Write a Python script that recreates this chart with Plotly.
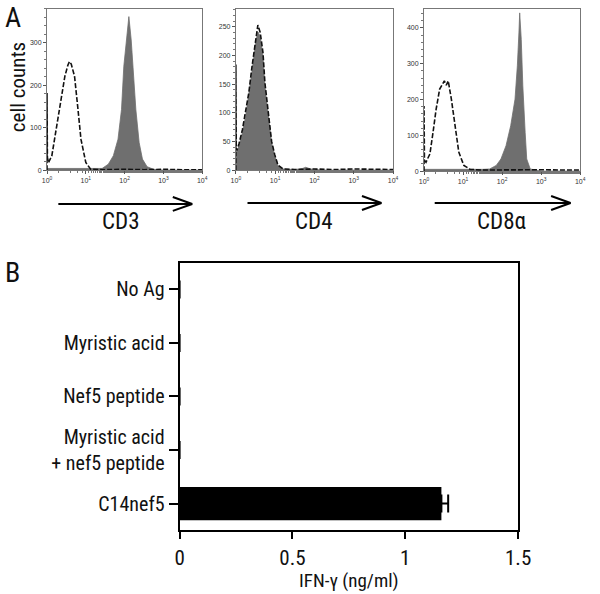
import plotly.graph_objects as go

# ---------------- Panel A data (log10 fluorescence, cell counts) ----------------
cd3_lx = [0, 0.5, 1.0, 1.42, 1.58, 1.71, 1.83, 1.92, 1.98, 2.04, 2.11, 2.17, 2.22, 2.29, 2.375, 2.46, 2.58, 2.75, 3.0, 4.0]
cd3_ct = [4, 4, 4, 4, 14, 34, 73, 143, 245, 307, 362, 307, 237, 143, 65, 26, 8, 2, 0, 0]
iso_cd3_lx = [0, 0, 0.01, 0.04, 0.125, 0.25, 0.375, 0.46, 0.54, 0.58, 0.625, 0.71, 0.79, 0.875, 1.0, 1.125, 1.5, 2.0, 2.5, 3.0, 3.5, 4.0]
iso_cd3_ct = [0, 182, 30, 18, 34, 104, 174, 221, 248, 256, 250, 221, 151, 73, 18, 2, 1, 2, 1, 2, 1, 1]

cd4_lx = [0, 0.025, 0.08, 0.165, 0.25, 0.33, 0.41, 0.5, 0.56, 0.62, 0.69, 0.74, 0.83, 0.91, 0.99, 1.07, 1.2, 1.5, 1.7, 1.78, 1.9, 2.2, 4.0]
cd4_ct = [30, 31, 42, 65, 94, 129, 172, 221, 241, 233, 198, 146, 88, 48, 25, 8, 2, 1, 3, 5, 2, 0, 0]
iso_cd4_lx = [0, 0, 0.01, 0.025, 0.08, 0.165, 0.25, 0.33, 0.41, 0.5, 0.56, 0.62, 0.69, 0.74, 0.83, 0.91, 0.99, 1.07, 1.2, 1.5, 2.0, 2.5, 3.0, 3.5, 4.0]
iso_cd4_ct = [0, 184, 40, 34, 46, 70, 100, 135, 180, 230, 253, 240, 205, 152, 92, 50, 27, 9, 2, 1, 2, 1, 2, 1, 1]

cd8_lx = [0, 0.5, 1.0, 1.5, 1.68, 1.85, 1.97, 2.10, 2.22, 2.33, 2.39, 2.43, 2.45, 2.49, 2.53, 2.59, 2.63, 2.72, 3.0, 4.0]
cd8_ct = [5, 6, 5, 5, 6, 16, 34, 71, 127, 201, 294, 386, 442, 368, 238, 108, 34, 6, 0, 0]
iso_cd8_lx = [0, 0, 0.01, 0.05, 0.15, 0.23, 0.31, 0.40, 0.52, 0.57, 0.62, 0.70, 0.79, 0.89, 1.02, 1.18, 1.5, 2.0, 2.5, 3.0, 3.5, 4.0]
iso_cd8_ct = [0, 182, 30, 25, 48, 108, 173, 229, 252, 240, 252, 201, 127, 53, 16, 5, 3, 4, 3, 4, 3, 3]

markers = ["CD3", "CD4", "CD8\u03b1"]
count_max = [380, 281, 453]
count_ticks = [[0, 100, 200, 300], [0, 50, 100, 150, 200, 250], [0, 100, 200, 300, 400]]
decade_vals = [1, 10, 100, 1000, 10000]
decade_text = ["10<sup>0</sup>", "10<sup>1</sup>", "10<sup>2</sup>", "10<sup>3</sup>", "10<sup>4</sup>"]

# ---------------- Panel B data ----------------
conditions = ["No Ag", "Myristic acid", "Nef5 peptide", "Myristic acid<br>+ nef5 peptide", "C14nef5"]
ifng = [0, 0, 0, 0, 1.16]
ifng_err = [0, 0, 0, 0, 0.03]
ifng_ticks = [0, 0.5, 1, 1.5]
ifng_ticktext = ["0", "0.5", "1", "1.5"]

W, H = 600, 594
def px(x):
    return x / W
def py(y):
    return 1 - y / H

COND = "Roboto Condensed, Liberation Sans Narrow, DejaVu Sans Condensed, Arial Narrow, sans-serif"
SMALL = "Liberation Sans, Arial, sans-serif"

fig = go.Figure()

hist_sets = [(cd3_lx, cd3_ct, iso_cd3_lx, iso_cd3_ct),
             (cd4_lx, cd4_ct, iso_cd4_lx, iso_cd4_ct),
             (cd8_lx, cd8_ct, iso_cd8_lx, iso_cd8_ct)]
xdoms = [(43.3, 203.3), (238, 400), (432, 593)]
ybot = [171, 171, 172]

layout_axes = {}
for i, (flx, fct, ilx, ict) in enumerate(hist_sets):
    n = i + 1
    xa = "x" if n == 1 else f"x{n}"
    ya = "y" if n == 1 else f"y{n}"
    fig.add_trace(go.Scatter(x=[10 ** v for v in flx], y=fct, mode="lines",
                             fill="tozeroy", fillcolor="#6f6f6f",
                             line=dict(color="#6f6f6f", width=0.8),
                             xaxis=xa, yaxis=ya, showlegend=False, hoverinfo="skip"))
    fig.add_trace(go.Scatter(x=[10 ** v for v in ilx], y=ict, mode="lines",
                             line=dict(color="#111111", width=1.6, dash="5px,2px"),
                             xaxis=xa, yaxis=ya, showlegend=False, hoverinfo="skip"))
    xkey = "xaxis" if n == 1 else f"xaxis{n}"
    ykey = "yaxis" if n == 1 else f"yaxis{n}"
    layout_axes[xkey] = dict(type="log", range=[0, 4], domain=[px(xdoms[i][0]), px(xdoms[i][1])],
                             anchor=ya, tickvals=decade_vals, ticktext=decade_text,
                             ticks="outside", ticklen=3, tickcolor="#555", showgrid=False,
                             zeroline=False, showline=True, linecolor="#777", linewidth=1, mirror=True,
                             tickfont=dict(family=SMALL, size=7, color="#333"),
                             minor=dict(ticks="outside", ticklen=2, tickcolor="#777", showgrid=False),
                             fixedrange=True)
    layout_axes[ykey] = dict(range=[0, count_max[i]], domain=[py(ybot[i]), py(9)], anchor=xa,
                             tickvals=count_ticks[i], ticks="outside", ticklen=3, tickcolor="#555",
                             showgrid=False, zeroline=False, showline=True, linecolor="#777",
                             linewidth=1, mirror=True,
                             tickfont=dict(family=SMALL, size=7, color="#333"),
                             minor=dict(ticks="outside", ticklen=2, tickcolor="#777",
                                        dtick=count_ticks[i][1] / 5, showgrid=False),
                             fixedrange=True)

# Panel B bar chart
fig.add_trace(go.Bar(y=conditions, x=ifng, orientation="h", width=0.62,
                     marker=dict(color="black", line=dict(width=0)),
                     error_x=dict(type="data", symmetric=False, array=ifng_err,
                                  arrayminus=[0] * len(ifng_err), color="black",
                                  thickness=2, width=9),
                     xaxis="x4", yaxis="y4", showlegend=False, hoverinfo="skip"))
layout_axes["xaxis4"] = dict(range=[0, 1.5], domain=[px(180), px(529)], anchor="y4",
                             tickvals=ifng_ticks, ticktext=ifng_ticktext, ticks="outside",
                             ticklen=7, tickwidth=2, tickcolor="black", showgrid=False,
                             zeroline=False, showline=True, linecolor="black", linewidth=2,
                             mirror=True, tickfont=dict(family=COND, size=21, color="#111"),
                             title=dict(text="IFN-\u03b3 (ng/ml)", font=dict(family=COND, size=19, color="#111"),
                                        standoff=2),
                             fixedrange=True)
layout_axes["yaxis4"] = dict(domain=[py(533), py(264)], anchor="x4", autorange="reversed",
                             ticks="outside", ticklen=9, tickwidth=2, tickcolor="black",
                             showgrid=False, zeroline=False, showline=True, linecolor="black",
                             linewidth=2, mirror=True,
                             tickfont=dict(family=COND, size=20, color="#111"),
                             fixedrange=True)

shapes = []
arrows = [(55, 193, 205), (250, 388, 204), (443, 583, 204)]
for x0, x1, y in arrows:
    shapes.append(dict(type="line", xref="paper", yref="paper", x0=px(x0), x1=px(x1),
                       y0=py(y), y1=py(y), line=dict(color="black", width=2)))
    shapes.append(dict(type="line", xref="paper", yref="paper", x0=px(x1 - 20), x1=px(x1),
                       y0=py(y - 7), y1=py(y), line=dict(color="black", width=2)))
    shapes.append(dict(type="line", xref="paper", yref="paper", x0=px(x1 - 20), x1=px(x1),
                       y0=py(y + 7), y1=py(y), line=dict(color="black", width=2)))

annotations = []
for name, cx in zip(markers, [120, 319, 512]):
    annotations.append(dict(text=name, x=px(cx), y=py(223), xref="paper", yref="paper",
                            showarrow=False, xanchor="center", yanchor="middle",
                            font=dict(family=COND, size=23, color="#111")))
annotations.append(dict(text="cell counts", x=px(13), y=py(88), xref="paper", yref="paper",
                        showarrow=False, textangle=-90, xanchor="center", yanchor="middle",
                        font=dict(family=COND, size=21, color="#111")))
annotations.append(dict(text="A", x=px(8), y=py(18), xref="paper", yref="paper",
                        showarrow=False, xanchor="center", yanchor="middle",
                        font=dict(family=COND, size=28, color="#111")))
annotations.append(dict(text="B", x=px(8), y=py(274), xref="paper", yref="paper",
                        showarrow=False, xanchor="center", yanchor="middle",
                        font=dict(family=COND, size=28, color="#111")))

fig.update_layout(width=W, height=H, autosize=False, margin=dict(l=0, r=0, t=0, b=0),
                  paper_bgcolor="white", plot_bgcolor="white", showlegend=False,
                  shapes=shapes, annotations=annotations, bargap=0.38, **layout_axes)

fig.write_html("out.html", config={"displayModeBar": False},
               post_script="document.body.style.margin='0';document.body.style.padding='0';")
